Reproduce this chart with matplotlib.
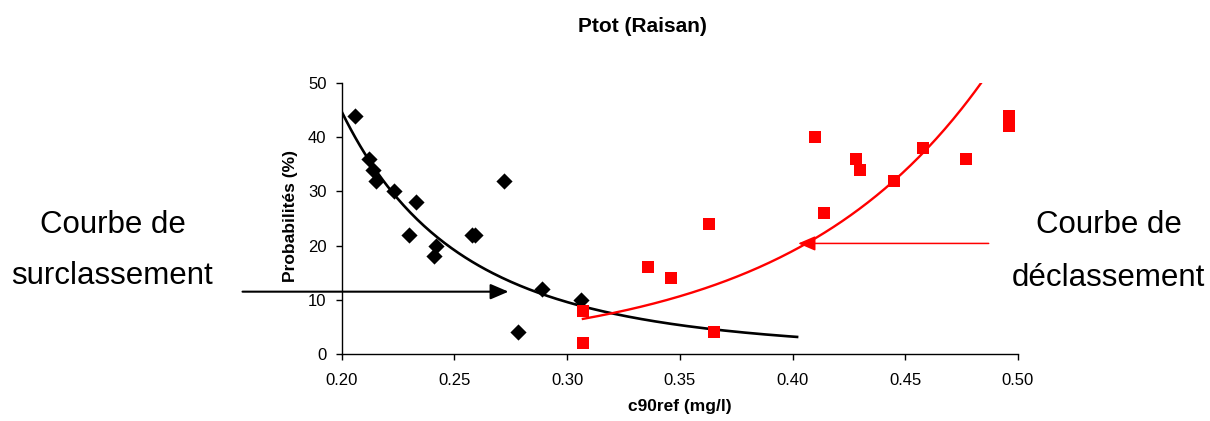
import numpy as np
import matplotlib
matplotlib.use("Agg")
import matplotlib.pyplot as plt

plt.rcParams['font.family'] = ['Liberation Sans', 'DejaVu Sans']

# --- data ---
surclass_x = [0.206, 0.212, 0.214, 0.215, 0.223, 0.233, 0.230, 0.242, 0.241,
              0.258, 0.259, 0.272, 0.289, 0.306, 0.278]
surclass_y = [44, 36, 34, 32, 30, 28, 22, 20, 18, 22, 22, 32, 12, 10, 4]

declass_x = [0.307, 0.307, 0.336, 0.346, 0.363, 0.365, 0.410, 0.414, 0.428,
             0.430, 0.445, 0.458, 0.477, 0.496, 0.496]
declass_y = [8, 2, 16, 14, 24, 4, 40, 26, 36, 34, 32, 38, 36, 44, 42]

# trend curves (coefficients)
surclass_power = [0.0987, -3.8]      # y = a * x**b
surclass_range = [0.200, 0.402]
declass_expo = [0.1857, 11.57]       # y = a * exp(b*x)
declass_range = [0.307, 0.496]

x_ticks = [0.20, 0.25, 0.30, 0.35, 0.40, 0.45, 0.50]
y_ticks = [0, 10, 20, 30, 40, 50]

title = "Ptot (Raisan)"
xlabel = "c90ref (mg/l)"
ylabel = "Probabilités (%)"
arrow_black = [(0.156, 11.5), (0.274, 11.5)]
arrow_red = [(0.487, 20.4), (0.4025, 20.4)]

W, H = 1210, 421
fig = plt.figure(figsize=(W / 100, H / 100), dpi=100)
ax = fig.add_axes([341.7 / W, 1 - 354 / H, (1018 - 341.7) / W, (354 - 83) / H])

xs = np.linspace(*surclass_range, 200)
ax.plot(xs, surclass_power[0] * xs ** surclass_power[1], color='black', lw=1.9, zorder=2)
xr = np.linspace(*declass_range, 200)
ax.plot(xr, declass_expo[0] * np.exp(declass_expo[1] * xr), color='#ff0000', lw=1.7, zorder=2)

ax.scatter(surclass_x, surclass_y, marker='D', s=68, color='black', zorder=3, linewidths=0)
ax.scatter(declass_x, declass_y, marker='s', s=64, color='#ff0000', zorder=3, linewidths=0)

ax.set_xlim(0.20, 0.50)
ax.set_ylim(0, 50)
ax.set_xticks(x_ticks)
ax.set_xticklabels([f"{t:.2f}" for t in x_ticks])
ax.set_yticks(y_ticks)
for s in ['top', 'right']:
    ax.spines[s].set_visible(False)
for s in ['left', 'bottom']:
    ax.spines[s].set_linewidth(1.0)
ax.tick_params(axis='both', direction='out', length=4, width=1, labelsize=12)
ax.tick_params(axis='x', pad=10)
ax.tick_params(axis='y', pad=7)

ax.annotate('', xy=arrow_black[1], xytext=arrow_black[0], annotation_clip=False,
            arrowprops=dict(arrowstyle='-|>,head_length=1.1,head_width=0.47',
                            mutation_scale=10, color='black', lw=1.5,
                            shrinkA=0, shrinkB=0))
ax.annotate('', xy=arrow_red[1], xytext=arrow_red[0], annotation_clip=False,
            arrowprops=dict(arrowstyle='-|>,head_length=1.05,head_width=0.45',
                            mutation_scale=10, color='#ff0000', lw=1.1,
                            shrinkA=0, shrinkB=0))

fig.text(642 / W, 1 - 27 / H, title, ha='center', va='center', fontsize=15, fontweight='bold')
fig.text(680 / W, 1 - 407 / H, xlabel, ha='center', va='center', fontsize=12.5, fontweight='bold')
fig.text(290 / W, 1 - 215.5 / H, ylabel, ha='center', va='center', fontsize=12.5,
         fontweight='bold', rotation=90)

fig.text(113 / W, 1 - 225 / H, "Courbe de", ha='center', va='center', fontsize=22.5)
fig.text(112 / W, 1 - 276 / H, "surclassement", ha='center', va='center', fontsize=22.5)
fig.text(1109 / W, 1 - 225 / H, "Courbe de", ha='center', va='center', fontsize=22.5)
fig.text(1108 / W, 1 - 278 / H, "déclassement", ha='center', va='center', fontsize=22.5)

fig.savefig("out.png", dpi=100)
